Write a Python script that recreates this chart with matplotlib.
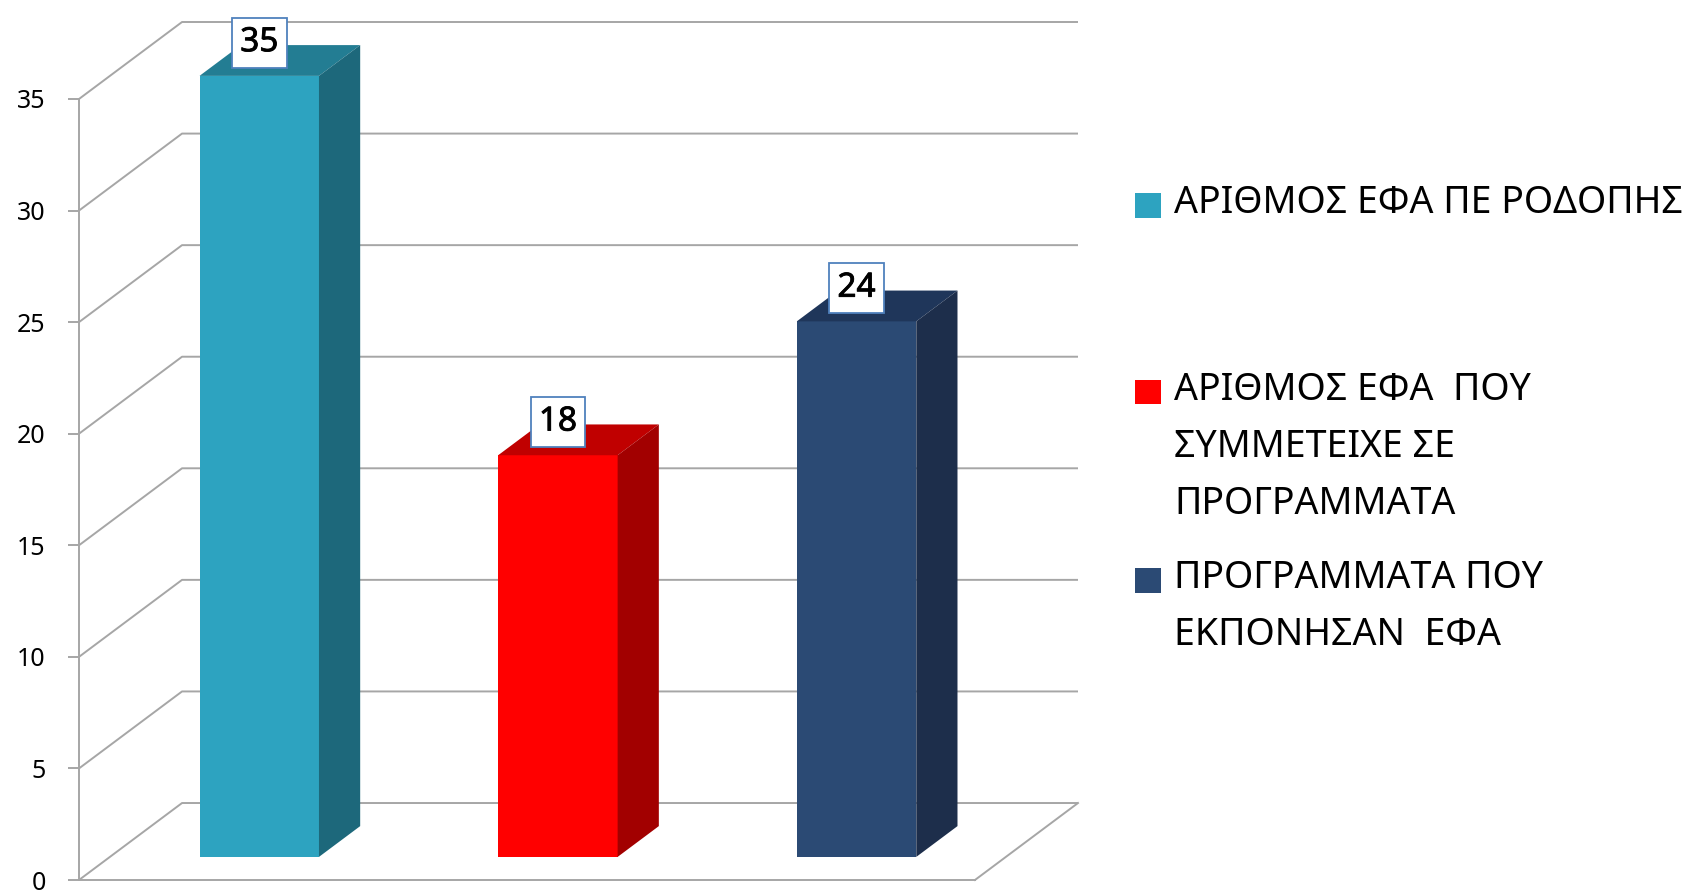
import matplotlib
matplotlib.use("Agg")
import matplotlib.pyplot as plt
import matplotlib.patheffects as pe
from matplotlib.patches import Polygon, Rectangle

plt.rcParams["font.family"] = ["Noto Sans", "DejaVu Sans"]

# data
categories = [
    "ΑΡΙΘΜΟΣ ΕΦΑ ΠΕ ΡΟΔΟΠΗΣ",
    "ΑΡΙΘΜΟΣ ΕΦΑ  ΠΟΥ\nΣΥΜΜΕΤΕΙΧΕ ΣΕ\nΠΡΟΓΡΑΜΜΑΤΑ",
    "ΠΡΟΓΡΑΜΜΑΤΑ ΠΟΥ\nΕΚΠΟΝΗΣΑΝ  ΕΦΑ",
]
values = [35, 18, 24]
y_ticks = [0, 5, 10, 15, 20, 25, 30, 35]

front_colors = ["#2DA3C0", "#FF0000", "#2B4A74"]
top_colors = ["#237D93", "#C00000", "#1F365A"]
side_colors = ["#1D687B", "#A20000", "#1D2E4B"]

# pseudo-3d geometry (depth offsets in data units)
DX, DY = 0.345, 3.45
D0, D1 = 0.3, 0.7
W = 0.4
GRID = "#A6A6A6"

W_PX, H_PX = 1700, 890
fig = plt.figure(figsize=(17, 8.9), dpi=100)
ax = fig.add_axes([79 / W_PX, 10 / H_PX, (1078 - 79) / W_PX, (880 - 22) / H_PX])

ymax = y_ticks[-1]
ax.set_xlim(-0.5, len(values) - 0.5 + DX)
ax.set_ylim(0, ymax + DY)

# walls: side diagonals + back gridlines
x_left, x_right = -0.5, len(values) - 0.5
for v in y_ticks:
    ax.plot([x_left, x_left + DX, x_right + DX], [v, v + DY, v + DY],
            color=GRID, lw=1.4, zorder=1, clip_on=False, solid_capstyle="butt")
# floor right edge
ax.plot([x_right, x_right + DX], [0, DY], color=GRID, lw=1.4, zorder=1, clip_on=False)

# bars
xs = list(range(len(values)))
ax.bar([x + D0 * DX for x in xs], values, width=W, bottom=D0 * DY,
       color=front_colors, zorder=3)
for x, v, tc, sc in zip(xs, values, top_colors, side_colors):
    l, r = x - W / 2, x + W / 2
    top = [(l + D0 * DX, v + D0 * DY), (r + D0 * DX, v + D0 * DY),
           (r + D1 * DX, v + D1 * DY), (l + D1 * DX, v + D1 * DY)]
    side = [(r + D0 * DX, D0 * DY), (r + D1 * DX, D1 * DY),
            (r + D1 * DX, v + D1 * DY), (r + D0 * DX, v + D0 * DY)]
    ax.add_patch(Polygon(top, closed=True, facecolor=tc, edgecolor="none", zorder=3))
    ax.add_patch(Polygon(side, closed=True, facecolor=sc, edgecolor="none", zorder=3))
    ax.annotate(str(v), xy=(x + D0 * DX, v + D0 * DY), xytext=(0, 12),
                textcoords="offset points", ha="center", va="bottom",
                fontsize=24, color="black", zorder=5, annotation_clip=False,
                path_effects=[pe.withStroke(linewidth=0.6, foreground="black")],
                bbox=dict(boxstyle="square,pad=0.25", facecolor="white",
                          edgecolor="#4F81BD", lw=1.3))

# axes styling
for s in ["top", "right"]:
    ax.spines[s].set_visible(False)
ax.spines["left"].set_bounds(0, ymax)
ax.spines["bottom"].set_bounds(x_left, x_right)
for s in ["left", "bottom"]:
    ax.spines[s].set_color(GRID)
    ax.spines[s].set_linewidth(1.4)
ax.set_xticks([])
ax.set_yticks(y_ticks)
ax.tick_params(axis="y", length=8, width=1.4, color=GRID, pad=16, labelsize=18)
ax.set_facecolor("none")

# legend drawn by hand (uneven spacing like the original)
first_baselines = [213, 400, 588]
line_step = 57
for label, fc, yb in zip(categories, front_colors, first_baselines):
    cy = yb - 8
    fig.add_artist(Rectangle((1135 / W_PX, 1 - (cy + 12.5) / H_PX), 26 / W_PX, 25 / H_PX,
                             transform=fig.transFigure, facecolor=fc, edgecolor="none"))
    for k, line in enumerate(label.split("\n")):
        fig.text(1174 / W_PX, 1 - (yb + k * line_step) / H_PX, line,
                 ha="left", va="baseline", fontsize=27, color="black")

fig.savefig("out.png", dpi=100)
